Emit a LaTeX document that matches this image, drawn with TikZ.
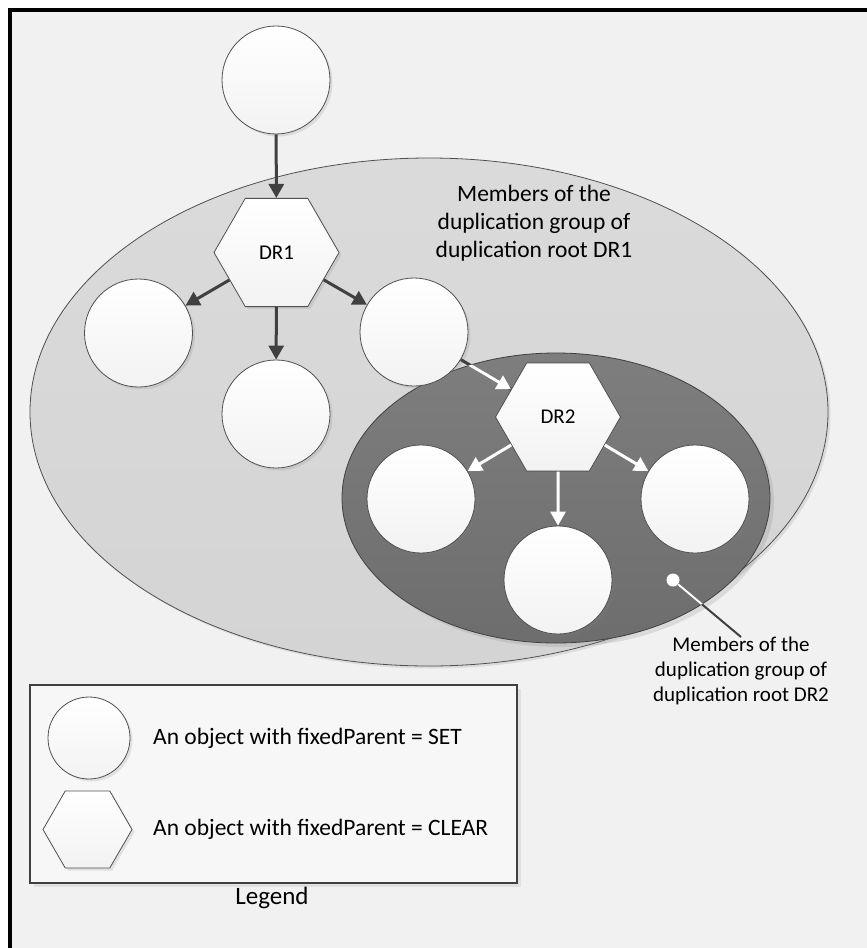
\documentclass[tikz,border=0pt]{standalone}
\usepackage{fontspec}
\setmainfont{Carlito}
\usetikzlibrary{shapes.geometric,arrows.meta,shadows}
\definecolor{bgc}{HTML}{F1F1F1}
\definecolor{lightfill}{HTML}{D4D4D4}
\definecolor{darkfill}{HTML}{777777}
\definecolor{edgec}{HTML}{505050}
\definecolor{arrc}{HTML}{404040}
\definecolor{legfill}{HTML}{F7F7F7}
\begin{document}
\begin{tikzpicture}[x=1pt,y=-1pt,
  softshadow/.style={drop shadow={opacity=0.18, shadow xshift=2.5pt, shadow yshift=-2.5pt}},
  obj/.style={circle, draw=edgec, line width=0.8pt, top color=white, bottom color=gray!10, minimum size=108pt, inner sep=0pt, softshadow},
  hexa/.style={regular polygon, regular polygon sides=6, draw=edgec, line width=0.8pt, top color=white, bottom color=gray!10, minimum size=125pt, inner sep=0pt, font=\fontsize{21}{25}\selectfont, softshadow},
  darr/.style={draw=arrc, line width=3pt, -{Triangle[length=14pt,width=15pt]}},
  warr/.style={draw=white, line width=3pt, -{Triangle[length=14pt,width=15pt]}},
  bigtext/.style={font=\fontsize{23.5}{28}\selectfont, align=center, inner sep=0pt},
  smalltext/.style={font=\fontsize{21}{25}\selectfont, align=center, inner sep=0pt},
]
\useasboundingbox (0,0) rectangle (867,948);
\fill[white] (0,0) rectangle (867,948);
\fill[bgc] (10,10) rectangle (867,948);
\draw[black, line width=4pt] (10,948) -- (10,10) -- (867,10);

% group ellipses
\node[ellipse, draw=edgec, line width=0.8pt, top color=lightfill!85!white, bottom color=lightfill, minimum width=798pt, minimum height=508pt, inner sep=0pt, softshadow] (big) at (429,412) {};
\node[ellipse, draw=edgec!80!black, line width=0.8pt, top color=darkfill!95!white, bottom color=darkfill!92!black, minimum width=428pt, minimum height=290pt, inner sep=0pt, drop shadow={opacity=0.2, shadow xshift=4pt, shadow yshift=-4pt}] (small) at (556,498) {};

% objects
\node[obj] (top) at (276,80) {};
\node[hexa] (dr1) at (276.5,252.5) {DR1};
\node[obj] (a) at (138.5,333) {};
\node[obj] (b) at (276,414) {};
\node[obj] (c) at (414,332) {};
\node[hexa] (dr2) at (558,417) {DR2};
\node[obj] (d) at (421,499) {};
\node[obj] (e) at (558,580) {};
\node[obj] (f) at (695,499) {};

% connectors
\draw[darr] (top) -- (dr1);
\draw[darr] (dr1) -- (a);
\draw[darr] (dr1) -- (b);
\draw[darr] (dr1) -- (c);
\draw[draw=arrc, line width=3pt] (c) -- (dr2);
\begin{scope}
  \clip (556,498) ellipse [x radius=214, y radius=145];
  \draw[warr] (c) -- (dr2);
\end{scope}
\draw[warr] (dr2) -- (d);
\draw[warr] (dr2) -- (e);
\draw[warr] (dr2) -- (f);

% texts
\node[bigtext] (t1) at (534,223) {Members of the\\duplication group of\\duplication root DR1};
\node[smalltext, anchor=north] (t2) at (741,637) {Members of the\\duplication group of\\duplication root DR2};

% callout
\node[circle, fill=white, minimum size=13pt, inner sep=0pt] (dot) at (673,580) {};
\draw[arrc, line width=2pt] (dot) -- (t2.north);
\begin{scope}
  \clip (556,498) ellipse [x radius=214, y radius=145];
  \draw[white, line width=2pt] (dot) -- (t2.north);
\end{scope}

% legend
\node[rectangle, draw=arrc, line width=2.2pt, fill=legfill, minimum width=487pt, minimum height=198pt, inner sep=0pt, drop shadow={opacity=0.15, shadow xshift=4pt, shadow yshift=-4pt}] (leg) at (273.5,784) {};
\node[obj, minimum size=82pt] (lc) at (89,738) {};
\node[hexa, minimum size=89pt] (lh) at (87.5,829.5) {};
\node[bigtext, anchor=west] (l1) at (153,738) {An object with fixedParent = SET};
\node[bigtext, anchor=west] (l2) at (153,829) {An object with fixedParent = CLEAR};
\node[font=\fontsize{25}{30}\selectfont, inner sep=0pt] (lt) at (272,898) {Legend};
\end{tikzpicture}
\end{document}
